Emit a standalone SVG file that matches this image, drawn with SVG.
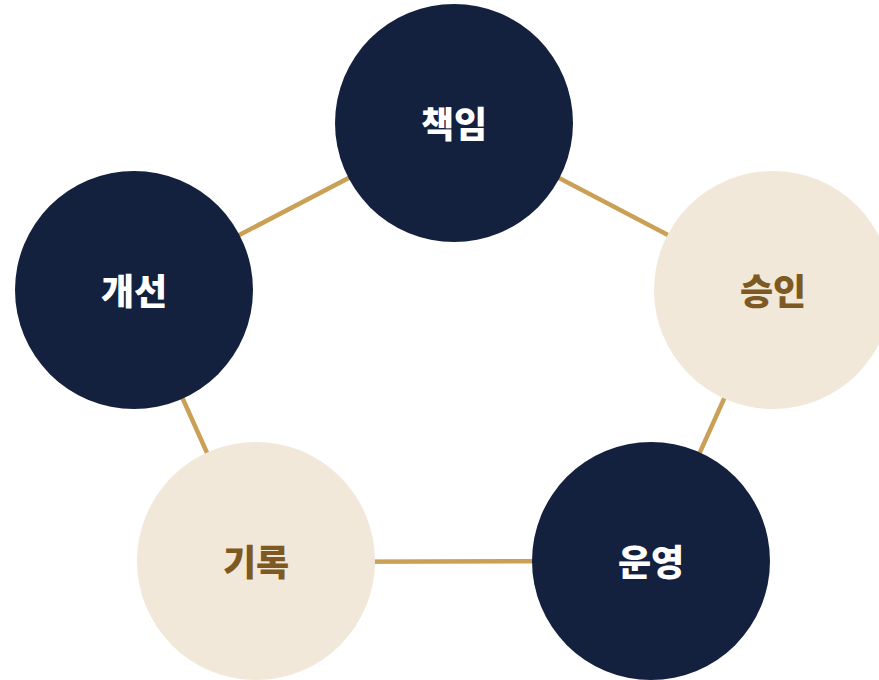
<svg xmlns="http://www.w3.org/2000/svg" width="879" height="680" viewBox="0 0 879 680">
<style>
.dark circle{fill:#14213e}
.light circle{fill:#f2e8d9}
text{font-family:"Noto Sans CJK KR","Noto Sans",sans-serif;font-weight:800;font-size:36px;text-anchor:middle;dominant-baseline:central}
.dark text{fill:#ffffff}
.light text{fill:#7d5a22}
#connectors line{stroke:#c9a055;stroke-width:4.5}
</style>
<rect width="879" height="680" fill="#ffffff"/>
<g id="connectors">
<line x1="454" y1="123" x2="773" y2="290"/>
<line x1="773" y1="290" x2="651" y2="561"/>
<line x1="651" y1="561" x2="256" y2="562"/>
<line x1="256" y1="562" x2="134" y2="290"/>
<line x1="134" y1="290" x2="454" y2="123"/>
</g>
<g id="node-responsibility" class="dark"><circle cx="454" cy="123" r="119"/><text x="454" y="122">책임</text></g>
<g id="node-approval" class="light"><circle cx="773" cy="290" r="119"/><text x="773" y="289">승인</text></g>
<g id="node-operation" class="dark"><circle cx="651" cy="561" r="119"/><text x="651" y="560">운영</text></g>
<g id="node-record" class="light"><circle cx="256" cy="561" r="119"/><text x="256" y="560">기록</text></g>
<g id="node-improvement" class="dark"><circle cx="134" cy="290" r="119"/><text x="134" y="289">개선</text></g>
</svg>
